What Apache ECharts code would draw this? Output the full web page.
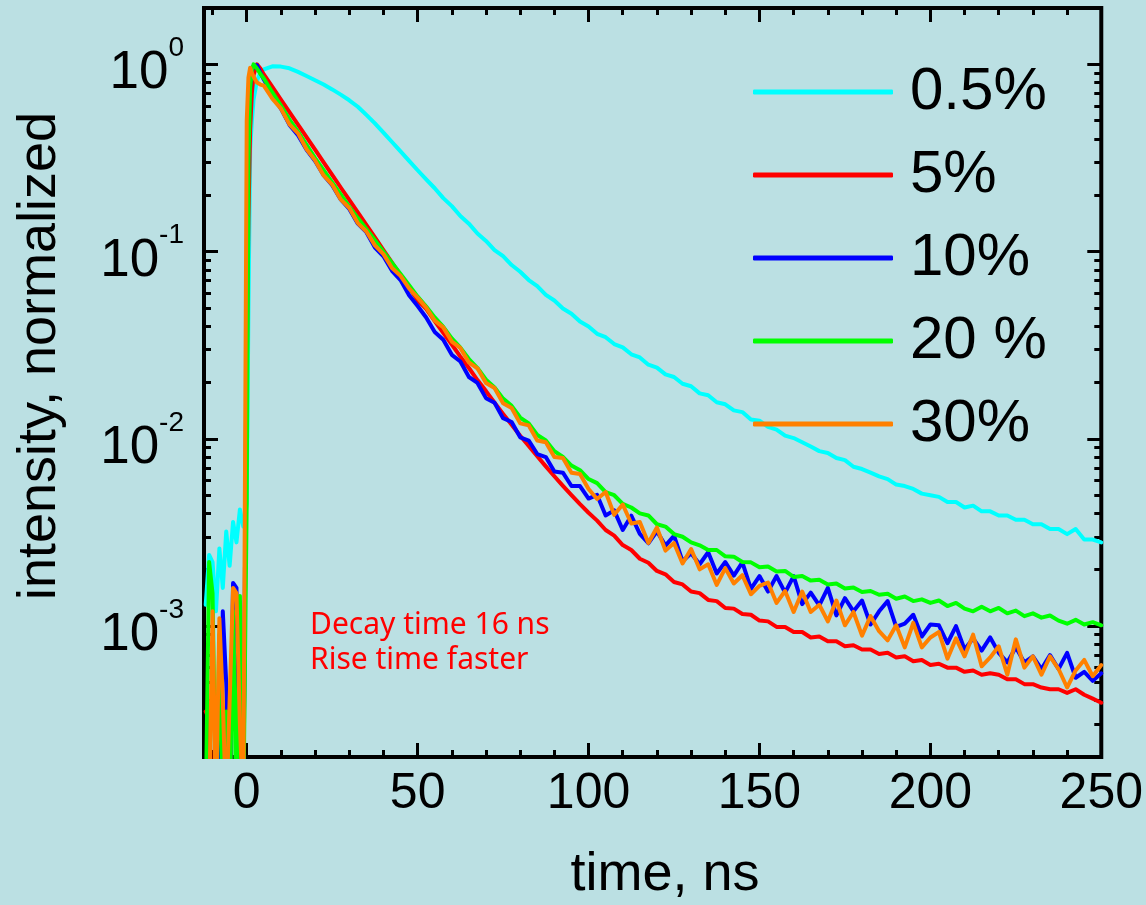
<!DOCTYPE html>
<html>
<head>
<meta charset="utf-8">
<script src="https://cdn.jsdelivr.net/npm/echarts@6/dist/echarts.min.js"></script>
<style>
html,body{margin:0;padding:0;background:#bbe0e3;}
#chart{width:1146px;height:905px;}
</style>
</head>
<body>
<div id="chart"></div>
<script>
// ---- data (time in ns, normalized intensity) ----
var times = [-12,-11,-10,-9,-8,-7,-6,-5,-4,-3,-2,-1,0,0.5,1,1.5,2,3,4,
5,7.5,10,12.5,15,17.5,20,22.5,25,27.5,30,32.5,35,37.5,40,42.5,45,47.5,50,
52.5,55,57.5,60,62.5,65,67.5,70,72.5,75,77.5,80,82.5,85,87.5,90,92.5,95,97.5,100,
102.5,105,107.5,110,112.5,115,117.5,120,122.5,125,127.5,130,132.5,135,137.5,140,142.5,145,147.5,150,
152.5,155,157.5,160,162.5,165,167.5,170,172.5,175,177.5,180,182.5,185,187.5,190,192.5,195,197.5,200,
202.5,205,207.5,210,212.5,215,217.5,220,222.5,225,227.5,230,232.5,235,237.5,240,242.5,245,247.5,250];

var seriesNames = ['0.5%', '5%', '10%', '20 %', '30%'];

var c05 = [1.3e-3,2.4e-3,2.2e-3,1.2e-3,2.6e-3,1.6e-3,3.2e-3,2.1e-3,3.6e-3,2.8e-3,4.2e-3,3.4e-3,
4.5e-3,0.05,0.35,0.5,0.65,0.82,0.9,
0.94,0.977,0.973,0.953,0.912,0.867,0.822,0.78,0.735,0.689,0.643,0.594,0.537,0.484,0.432,0.385,0.343,0.305,0.272,
0.243,0.218,0.193,0.175,0.155,0.141,0.125,0.114,0.102,0.0945,0.0848,0.0781,0.0705,0.0655,0.0588,0.0548,0.0497,0.0466,0.0423,0.0398,
0.0364,0.0349,0.0321,0.0308,0.0283,0.0272,0.0249,0.0240,0.0221,0.0214,0.0197,0.0191,0.0175,0.0171,0.0157,0.0153,0.0142,0.0139,0.0127,0.0125,
0.0116,0.0112,0.0104,0.0101,0.0096,0.0091,0.0086,0.0084,0.0079,0.0077,0.0071,0.0069,0.0066,0.0063,0.0061,0.0057,0.0056,0.0054,0.0051,0.0050,
0.0049,0.0046,0.0046,0.0043,0.0044,0.0041,0.0041,0.0039,0.0039,0.0037,0.0037,0.0035,0.0035,0.0033,0.0033,0.0031,0.0033,0.0029,0.0029,0.0028];

var c5 = [3.5e-4,3.2e-4,1e-4,2.4e-4,1e-4,1e-4,3.4e-4,2.8e-4,1e-4,1e-4,2.2e-4,1e-4,
0.02,0.15,0.45,0.7,0.88,1.0,0.95,
0.884,0.758,0.649,0.556,0.477,0.409,0.350,0.300,0.257,0.220,0.189,0.162,0.139,0.119,0.102,0.0874,0.0749,0.0642,0.0550,
0.0494,0.0426,0.0368,0.0319,0.0275,0.0239,0.0206,0.0180,0.0156,0.0136,0.0119,0.0104,0.00917,0.00807,0.00713,0.00631,0.00561,0.00501,0.00448,0.00403,
0.00366,0.00326,0.00304,0.00271,0.00255,0.00229,0.00218,0.00197,0.00189,0.00172,0.00167,0.00153,0.00150,0.00138,0.00136,0.00125,0.00124,0.00116,0.00115,0.00107,
1.06e-3,9.9e-4,9.9e-4,9.3e-4,9.3e-4,8.7e-4,8.8e-4,8.3e-4,8.3e-4,7.8e-4,7.9e-4,7.5e-4,7.5e-4,7.1e-4,7.2e-4,6.8e-4,6.9e-4,6.5e-4,6.6e-4,6.2e-4,
6.3e-4,6.0e-4,6.0e-4,5.7e-4,5.8e-4,5.5e-4,5.6e-4,5.5e-4,5.2e-4,5.2e-4,4.9e-4,4.9e-4,4.7e-4,4.6e-4,4.6e-4,4.4e-4,4.6e-4,4.3e-4,4.1e-4,3.9e-4];

var c10 = [1e-4,1e-4,1e-4,1e-4,1e-4,1.2e-3,5e-4,1e-4,1.7e-3,1.6e-3,1e-4,1e-4,
0.05,0.4,0.75,0.92,0.98,0.99,0.9,
0.83,0.69,0.58,0.475,0.418,0.35,0.305,0.256,0.226,0.19,0.169,0.141,0.127,0.105,0.0945,0.079,0.0705,0.0585,0.0512,
0.0445,0.0372,0.0338,0.0281,0.0259,0.0214,0.0199,0.0165,0.0156,0.0129,0.0123,0.0102,0.0098,0.0083,0.0080,0.0067,0.0066,0.0056,0.0056,0.0048,
0.00502,0.0039,0.00415,0.00326,0.00389,0.00311,0.00277,0.00321,0.00269,0.00304,0.00222,0.00245,0.00214,0.00248,0.00191,0.0022,0.00186,0.00219,0.00158,0.00185,
0.00153,0.00185,0.00151,0.00185,0.00131,0.00151,0.00129,0.0016,0.00114,0.00141,0.0012,0.00137,0.00102,0.0012,0.00136,9.9e-4,1.03e-3,1.15e-3,8.8e-4,1.02e-3,
1.01e-3,8.1e-4,1.0e-3,7.5e-4,8.6e-4,7.4e-4,8.7e-4,7.2e-4,6.4e-4,7.7e-4,6.4e-4,6.9e-4,5.9e-4,7.0e-4,5.9e-4,7.2e-4,5.3e-4,5.7e-4,5.1e-4,5.6e-4];

var c20 = [1e-4,2.2e-3,1.5e-3,1e-4,9e-4,1e-4,3.5e-4,1e-4,1.2e-3,1e-4,1.45e-3,1e-4,
4.7e-3,0.3,0.75,0.93,1.0,0.95,0.89,
0.84,0.708,0.603,0.507,0.437,0.372,0.316,0.272,0.234,0.202,0.174,0.151,0.132,0.115,0.100,0.0871,0.0759,0.0661,0.0575,
0.0509,0.0445,0.0396,0.0344,0.0307,0.0267,0.0239,0.0207,0.0188,0.0164,0.0150,0.0130,0.0121,0.0105,0.0098,0.0086,0.0080,0.0072,0.0068,0.0061,
0.0058,0.0052,0.0050,0.0045,0.0043,0.0040,0.0039,0.0035,0.0034,0.0031,0.0030,0.0028,0.0027,0.00255,0.00255,0.00236,0.00235,0.0022,0.00219,0.00206,
0.00208,0.00196,0.00197,0.00183,0.00185,0.00175,0.00177,0.00167,0.00169,0.00159,0.00161,0.00152,0.00154,0.00147,0.00149,0.0014,0.00144,0.00136,0.00139,0.00133,
0.00137,0.00128,0.00133,0.00124,0.0012,0.00127,0.0012,0.00125,0.00117,0.00121,0.00113,0.00117,0.00111,0.00114,0.00107,0.00103,0.00108,0.00102,0.00105,0.00101];

var c30 = [1e-4,1e-4,1.2e-3,1e-4,1.1e-3,4e-4,1e-4,4e-4,1.6e-3,1.5e-3,3e-4,1e-4,
0.5,0.85,0.96,0.9,0.86,0.8,0.78,
0.77,0.655,0.58,0.478,0.428,0.352,0.307,0.255,0.228,0.19,0.171,0.142,0.128,0.108,0.097,0.0818,0.0742,0.0636,0.0568,
0.0502,0.0428,0.0394,0.0331,0.0306,0.0256,0.0238,0.0199,0.0187,0.0155,0.0146,0.0121,0.0118,0.0098,0.0096,0.0080,0.0079,0.0066,0.0065,0.0054,
0.00477,0.0052,0.00393,0.00446,0.00353,0.0036,0.00278,0.00336,0.00253,0.00278,0.00216,0.00258,0.00201,0.00214,0.00166,0.00204,0.00169,0.00187,0.00148,0.00164,
0.00171,0.00133,0.00154,0.00119,0.00153,0.00119,0.0013,0.00106,0.00137,0.00101,0.00119,8.9e-4,1.13e-3,9.4e-4,8.4e-4,1.01e-3,7.7e-4,1.04e-3,7.7e-4,8.7e-4,
9.3e-4,6.7e-4,8.6e-4,6.9e-4,9.0e-4,6.1e-4,6.8e-4,7.8e-4,5.5e-4,8.5e-4,6.0e-4,6.9e-4,5.5e-4,6.9e-4,5.9e-4,4.7e-4,5.8e-4,6.6e-4,5.4e-4,6.2e-4];

// tick positions
var xMajor = [0, 50, 100, 150, 200, 250];
var xMinor = [-10, 10, 20, 30, 40, 60, 70, 80, 90, 110, 120, 130, 140, 160, 170, 180, 190, 210, 220, 230, 240];
var yMajor = [1e-3, 1e-2, 1e-1, 1];
var yMinor = [2e-4,3e-4,4e-4,5e-4,6e-4,7e-4,8e-4,9e-4,
  2e-3,3e-3,4e-3,5e-3,6e-3,7e-3,8e-3,9e-3,
  2e-2,3e-2,4e-2,5e-2,6e-2,7e-2,8e-2,9e-2,
  0.2,0.3,0.4,0.5,0.6,0.7,0.8,0.9];

var colors = ['#00ffff', '#ff0000', '#0000ff', '#00ff00', '#ff8000'];
var allSeries = [c05, c5, c10, c20, c30];

var FONT = '"Liberation Sans", Arial, sans-serif';

function makeX(pos, ticks, len, labels) {
  return {
    type: 'value', position: pos, min: -12.5, max: 250,
    axisLine: {show: false, onZero: false}, splitLine: {show: false},
    axisTick: {show: true, inside: true, length: len, customValues: ticks,
      lineStyle: {color: '#000', width: 3}},
    axisLabel: labels ? {show: true, customValues: xMajor, margin: 12, fontSize: 50,
      color: '#000', fontFamily: FONT} : {show: false}
  };
}
function makeY(pos, ticks, len, labels) {
  return {
    type: 'log', logBase: 10, position: pos, min: 2e-4, max: 2,
    axisLine: {show: false, onZero: false}, splitLine: {show: false}, minorTick: {show: false},
    axisTick: {show: true, inside: true, length: len, customValues: ticks,
      lineStyle: {color: '#000', width: 3}},
    axisLabel: labels ? {
      show: true, customValues: yMajor, margin: 20, color: '#000',
      formatter: function (v) {
        var e = Math.round(Math.log(v) / Math.LN10);
        return '{b|10}{s|' + e + '}';
      },
      rich: {
        b: {fontSize: 53, lineHeight: 72, fontFamily: FONT, color: '#000', verticalAlign: 'bottom'},
        s: {fontSize: 28, lineHeight: 28, fontFamily: FONT, color: '#000', verticalAlign: 'top',
            padding: [6, 0, 0, 0]}
      }
    } : {show: false}
  };
}

var series = allSeries.map(function (vals, k) {
  return {
    name: seriesNames[k], type: 'line', symbol: 'none', showSymbol: false, silent: true, clip: true,
    data: times.map(function (t, i) { return [t, vals[i]]; }),
    lineStyle: {width: 4, color: colors[k], join: 'round', cap: 'round'},
    itemStyle: {color: colors[k]}
  };
});

var chart = echarts.init(document.getElementById('chart'), null, {renderer: 'canvas'});
chart.setOption({
  backgroundColor: '#bbe0e3',
  animation: false,
  grid: {left: 204, top: 8, width: 899, height: 749, show: true,
    borderColor: '#000', borderWidth: 4, backgroundColor: 'transparent'},
  xAxis: [makeX('bottom', xMajor, 14, true), makeX('bottom', xMinor, 7, false),
          makeX('top', xMajor, 14, false), makeX('top', xMinor, 7, false)],
  yAxis: [makeY('left', yMajor, 14, true), makeY('left', yMinor, 7, false),
          makeY('right', yMajor, 14, false), makeY('right', yMinor, 7, false)],
  legend: {
    orient: 'vertical', left: 753, top: 62, padding: 0,
    icon: 'roundRect', itemWidth: 140, itemHeight: 5, itemGap: 23, selectedMode: false,
    textStyle: {fontSize: 60, lineHeight: 60, color: '#000', fontFamily: FONT, padding: [0, 0, 0, 12]},
    data: seriesNames
  },
  graphic: [
    {type: 'text', x: 665, y: 848, silent: true,
      style: {text: 'time, ns', fontSize: 54, lineHeight: 54, fontFamily: FONT, fill: '#000',
        align: 'center', verticalAlign: 'top'}},
    {type: 'text', x: 40, y: 356, rotation: Math.PI / 2, silent: true,
      style: {text: 'intensity, normalized', fontSize: 54, fontFamily: FONT, fill: '#000',
        align: 'center', verticalAlign: 'middle'}},
    {type: 'text', x: 310, y: 608, silent: true,
      style: {text: 'Decay time 16 ns\nRise time faster', fontSize: 30, lineHeight: 35,
        fontFamily: '"Noto Sans", "Open Sans", sans-serif', fill: '#ff0000',
        align: 'left', verticalAlign: 'top'}}
  ],
  series: series
});
</script>
</body>
</html>
